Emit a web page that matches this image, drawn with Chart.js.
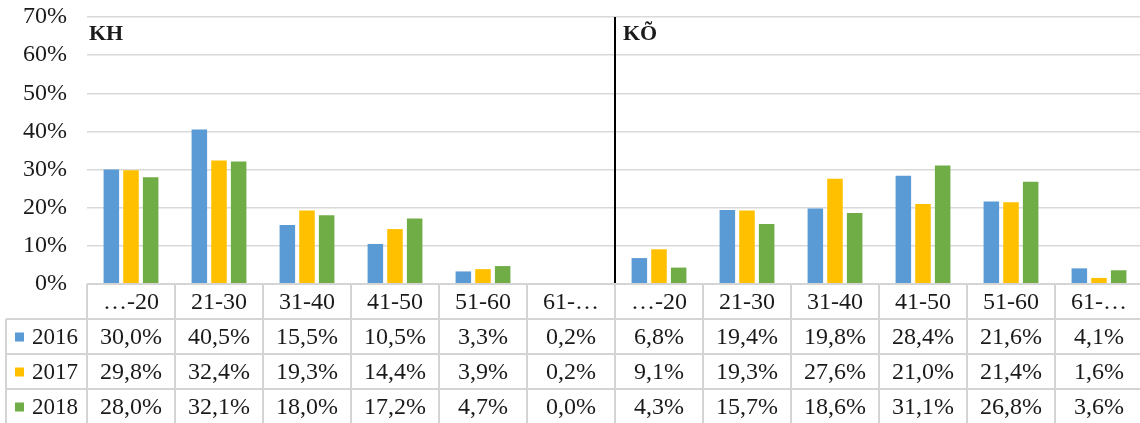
<!DOCTYPE html>
<html>
<head>
<meta charset="utf-8">
<script src="https://cdn.jsdelivr.net/npm/chart.js@4.4.1/dist/chart.umd.min.js"></script>
<style>
  html, body { margin: 0; padding: 0; background: #fff; overflow: hidden; }
  #wrap { position: relative; width: 1146px; height: 423px; }
</style>
</head>
<body>
<div id="wrap"><canvas id="ageChart"></canvas></div>
<script>
const ageGroups = ["…-20", "21-30", "31-40", "41-50", "51-60", "61-…", "…-20", "21-30", "31-40", "41-50", "51-60", "61-…"];
const groupTitles = ["KH", "KÕ"];
const years = ["2016", "2017", "2018"];
const values2016 = [30.0, 40.5, 15.5, 10.5, 3.3, 0.2, 6.8, 19.4, 19.8, 28.4, 21.6, 4.1];
const values2017 = [29.8, 32.4, 19.3, 14.4, 3.9, 0.2, 9.1, 19.3, 27.6, 21.0, 21.4, 1.6];
const values2018 = [28.0, 32.1, 18.0, 17.2, 4.7, 0.0, 4.3, 15.7, 18.6, 31.1, 26.8, 3.6];
const yMax = 70;
const yStep = 10;

const seriesColors = ["#5b9bd5", "#ffc000", "#70ad47"];
const serif = "'Liberation Serif', 'Times New Roman', serif";
const textColor = "#1a1a1a";

function fmt(v) {
  return v.toFixed(1).replace(".", ",") + "%";
}

// table under the plot + separator + group titles
const dataTablePlugin = {
  id: "dataTable",
  afterDatasetsDraw(chart) {
    const { ctx, chartArea } = chart;
    const n = ageGroups.length;
    const colW = (chartArea.right - chartArea.left) / n;
    const sepX = chartArea.left + colW * (n / 2);

    ctx.save();
    ctx.strokeStyle = "#000";
    ctx.lineWidth = 2;
    ctx.beginPath();
    ctx.moveTo(sepX, chartArea.top);
    ctx.lineTo(sepX, chartArea.bottom);
    ctx.stroke();

    ctx.fillStyle = textColor;
    ctx.font = "bold 22px " + serif;
    ctx.textBaseline = "middle";
    ctx.textAlign = "left";
    ctx.fillText(groupTitles[0], chartArea.left + 2, chartArea.top + 17);
    ctx.fillText(groupTitles[1], sepX + 8, chartArea.top + 17);
    ctx.restore();
  },
  afterDraw(chart) {
    const { ctx, chartArea } = chart;
    const xs = chart.scales.x;
    const n = ageGroups.length;
    const colW = (chartArea.right - chartArea.left) / n;
    const rowH = 35;
    const top = chartArea.bottom;
    const legendLeft = 6;
    const rows = [values2016, values2017, values2018];

    ctx.save();
    ctx.strokeStyle = "#d4d4d4";
    ctx.lineWidth = 2;
    ctx.beginPath();
    ctx.moveTo(chartArea.left, top);
    ctx.lineTo(chartArea.right, top);
    for (let r = 1; r <= 4; r++) {
      const y = top + r * rowH;
      ctx.moveTo(legendLeft, y);
      ctx.lineTo(chartArea.right, y);
    }
    for (let c = 0; c <= n; c++) {
      const x = chartArea.left + c * colW;
      ctx.moveTo(x, top);
      ctx.lineTo(x, top + 4 * rowH);
    }
    ctx.moveTo(legendLeft, top + rowH);
    ctx.lineTo(legendLeft, top + 4 * rowH);
    ctx.stroke();

    ctx.fillStyle = textColor;
    ctx.font = "24px " + serif;
    ctx.textBaseline = "middle";
    ctx.textAlign = "center";

    ageGroups.forEach((label, i) => {
      ctx.fillText(label, xs.getPixelForValue(i), top + rowH / 2 + 1);
    });

    rows.forEach((vals, r) => {
      const yMid = top + rowH * (r + 1) + rowH / 2 + 1;
      vals.forEach((v, i) => {
        ctx.fillText(fmt(v), xs.getPixelForValue(i), yMid);
      });
    });

    // legend keys
    ctx.textAlign = "left";
    ctx.font = "23px " + serif;
    years.forEach((yr, r) => {
      const yMid = top + rowH * (r + 1) + rowH / 2;
      ctx.fillStyle = seriesColors[r];
      ctx.fillRect(15, yMid - 4, 9, 9);
      ctx.fillStyle = textColor;
      ctx.fillText(yr, 32, yMid + 1);
    });
    ctx.restore();
  },
};

const ctx = document.getElementById("ageChart").getContext("2d");

new Chart(ctx, {
  type: "bar",
  data: {
    labels: ageGroups,
    datasets: [
      { label: years[0], data: values2016, backgroundColor: seriesColors[0] },
      { label: years[1], data: values2017, backgroundColor: seriesColors[1] },
      { label: years[2], data: values2018, backgroundColor: seriesColors[2] },
    ],
  },
  options: {
    responsive: true,
    maintainAspectRatio: false,
    animation: false,
    layout: {
      padding: { top: 17, right: 3, bottom: 139, left: 0 },
    },
    datasets: {
      bar: {
        categoryPercentage: 0.67,
        barPercentage: 0.79,
        borderWidth: 0,
      },
    },
    plugins: {
      legend: { display: false },
      tooltip: { enabled: false },
    },
    scales: {
      x: {
        display: false,
      },
      y: {
        min: 0,
        max: yMax,
        afterFit(scale) {
          scale.width = 87;
          scale.paddingTop = 0;
          scale.paddingBottom = 0;
        },
        border: { display: false },
        grid: {
          color: "#d9d9d9",
          lineWidth: 1.5,
          drawTicks: false,
        },
        ticks: {
          stepSize: yStep,
          padding: 20,
          color: textColor,
          font: { family: serif, size: 24 },
          callback: (v) => v + "%",
        },
      },
    },
  },
  plugins: [dataTablePlugin],
});
</script>
</body>
</html>
